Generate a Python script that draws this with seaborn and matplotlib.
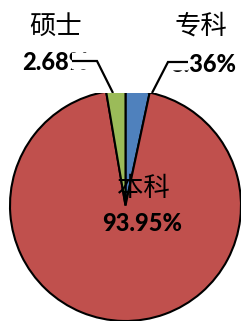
import matplotlib
matplotlib.use("Agg")
import matplotlib.pyplot as plt
import matplotlib.patheffects as pe
from matplotlib.patches import Rectangle
import seaborn as sns

# data, clockwise from 12 o'clock
labels = ["专科", "本科", "硕士"]
shares = [3.36, 93.95, 2.68]
colors = ["#4F81BD", "#C0504D", "#9BBB59"]

W, H = 241, 321


def ypix(y):
    # pixel row measured from the top -> data y
    return H - y


def main():
    sns.set_theme(style="white")
    fig = plt.figure(figsize=(W / 100, H / 100), dpi=100)
    ax = fig.add_axes([0, 0, 1, 1])

    cx, cy, r = 125.5, ypix(205.5), 115.5
    wedges, _ = ax.pie(
        shares,
        colors=colors,
        startangle=90,
        counterclock=False,
        center=(cx, cy),
        radius=r,
        wedgeprops=dict(edgecolor="black", linewidth=1.5),
    )
    ax.set_xlim(0, W)
    ax.set_ylim(0, H)
    ax.set_aspect("equal")
    ax.axis("off")

    # the top of the pie is cut off flat
    ax.add_patch(Rectangle((0, ypix(93)), W, 20, facecolor="white",
                           edgecolor="none", zorder=2))

    cjk = ["Noto Sans CJK SC", "DejaVu Sans"]
    num = ["Lato", "DejaVu Sans"]
    name_kw = dict(family=cjk, fontsize=19, fontweight="light", color="black",
                   zorder=3)
    pct_kw = dict(family=num, fontsize=17, fontweight="black", color="black",
                  va="baseline", zorder=3)

    pct = [f"{v:.2f}%" for v in shares]

    ax.text(56, ypix(26), labels[2], ha="center", va="center", **name_kw)
    ax.text(22, ypix(70), pct[2], ha="left", **pct_kw)

    ax.text(201, ypix(26), labels[0], ha="center", va="center", **name_kw)
    ax.text(236, ypix(72), pct[0], ha="right", **pct_kw)

    ax.text(143, ypix(188), labels[1], ha="center", va="center", **name_kw)
    ax.text(142.5, ypix(231), pct[1], ha="center", **pct_kw)

    # leader lines
    clip = Rectangle((0, ypix(93)), W, 200, transform=ax.transData)
    leaders = [
        ([72, 97, 113], [61, 61, 93]),
        ([188, 168, 152], [62, 62, 93]),
    ]
    for xs, ys in leaders:
        line, = ax.plot(
            xs, [ypix(y) for y in ys], color="black", linewidth=1.6,
            solid_joinstyle="miter", solid_capstyle="butt", zorder=4,
            path_effects=[pe.Stroke(linewidth=12, foreground="white"),
                          pe.Normal()],
        )
        line.set_clip_path(clip)

    fig.savefig("out.png", dpi=100)


if __name__ == "__main__":
    main()
